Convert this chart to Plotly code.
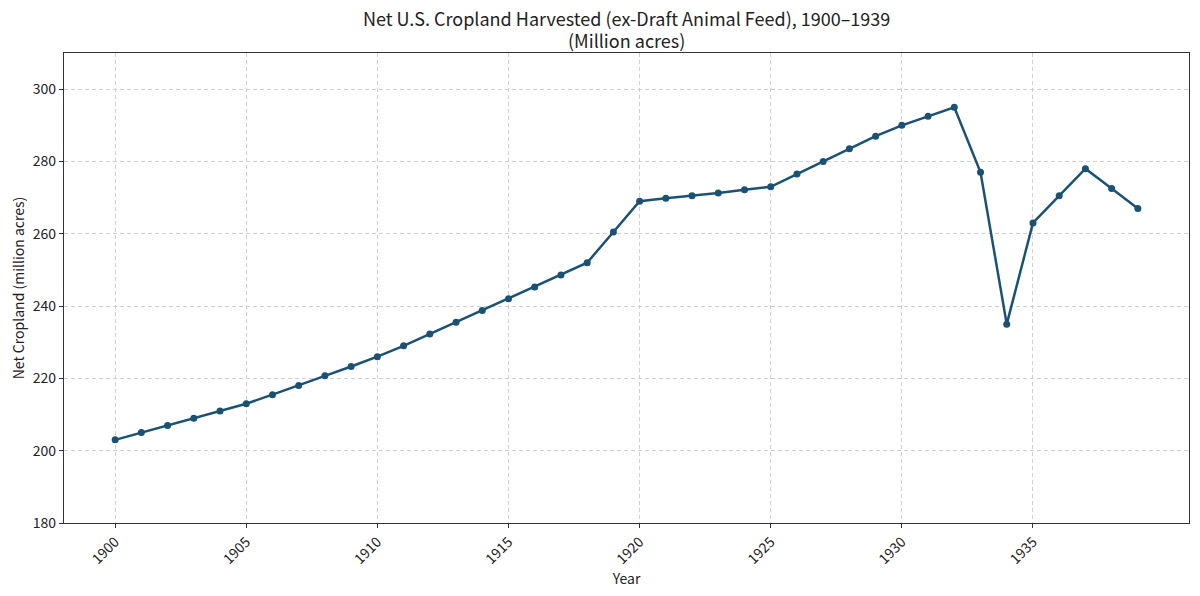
import plotly.graph_objects as go

# 年份与净耕地面积（百万英亩）
years = list(range(1900, 1940))
cropland = [203, 205, 207, 209, 211, 213, 215.5, 218, 220.7, 223.3,
            226, 229, 232.3, 235.5, 238.8, 242, 245.3, 248.6, 252, 260.5,
            269, 269.8, 270.5, 271.3, 272.2, 273, 276.5, 280, 283.5, 287,
            290, 292.5, 295, 277, 235, 263, 270.5, 278, 272.5, 267]
x_ticks = [1900, 1905, 1910, 1915, 1920, 1925, 1930, 1935]
y_ticks = [180, 200, 220, 240, 260, 280, 300]
title_lines = ['Net U.S. Cropland Harvested (ex-Draft Animal Feed), 1900–1939',
               '(Million acres)']

font_name = 'Noto Sans CJK SC'
color_line = '#1a5276'

fig = go.Figure()
fig.add_trace(go.Scatter(
    x=years,
    y=cropland,
    mode='lines+markers',
    line=dict(color=color_line, width=2.5),
    marker=dict(color=color_line, size=7),
    showlegend=False,
))

axis_common = dict(
    showline=True,
    linecolor='#333333',
    linewidth=1.3,
    mirror=True,
    ticks='outside',
    ticklen=4,
    tickcolor='#333333',
    showgrid=True,
    gridcolor='#cfcfcf',
    griddash='4px,3px',
    gridwidth=1,
    zeroline=False,
    automargin=False,
    tickfont=dict(family=font_name, size=14, color='#222222'),
)

# 标题两行分开放，避免行距太挤
for line_text, shift in zip(title_lines, [35, 13]):
    fig.add_annotation(
        text=line_text,
        x=0.5, xref='paper', xanchor='center',
        y=1, yref='paper', yanchor='middle', yshift=shift,
        showarrow=False,
        font=dict(family=font_name, size=18, color='#222222'),
    )

# 页面body有8px边距，尺寸与边距相应扣除
fig.update_layout(
    width=1192,
    height=588,
    paper_bgcolor='white',
    plot_bgcolor='white',
    margin=dict(l=56, r=11, t=45, b=73),
    font=dict(family=font_name, color='#222222'),
    xaxis=dict(
        range=[1898.05, 1940.95],
        tickvals=x_ticks,
        tickangle=-45,
        title=dict(text='Year', font=dict(family=font_name, size=14), standoff=4),
        **axis_common,
    ),
    yaxis=dict(
        range=[180, 310],
        tickvals=y_ticks,
        title=dict(text='Net Cropland (million acres)', font=dict(family=font_name, size=14), standoff=14),
        **axis_common,
    ),
)

fig.write_html('out.html')
